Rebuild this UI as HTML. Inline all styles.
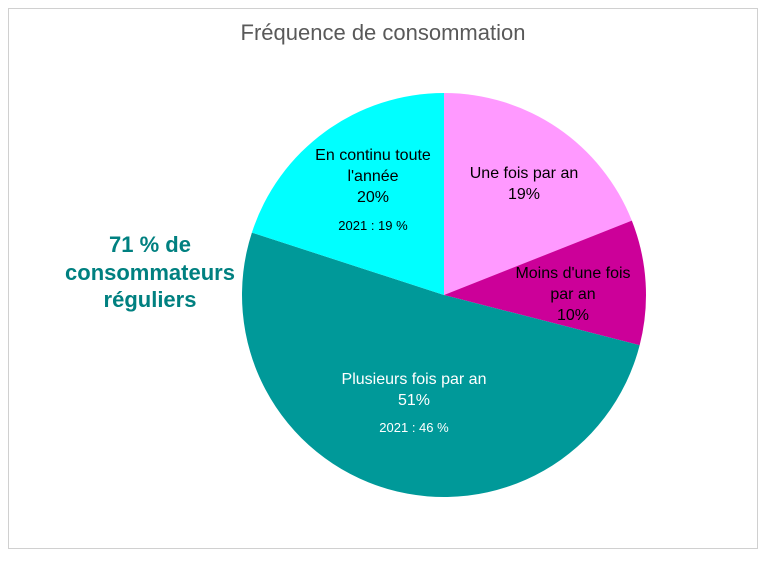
<!DOCTYPE html>
<html><head><meta charset="utf-8"><style>
body{margin:0;background:#fff;font-family:"Liberation Sans",sans-serif;}
#c{position:absolute;left:0;top:0;width:768px;height:557px;}
</style></head><body>
<div id="c">
<svg width="768" height="557">
<rect x="8.5" y="8.5" width="749" height="540" fill="#fff" stroke="#d0d0d0"/>
<text x="383" y="40" text-anchor="middle" font-size="22" fill="#595959">Fréquence de consommation</text>
<g id="slices"></g>
<g id="labels" font-size="16"></g>
<text x="150" y="252" text-anchor="middle" font-size="22" font-weight="bold" fill="#008080">71 % de</text>
<text x="150" y="280" text-anchor="middle" font-size="22" font-weight="bold" fill="#008080">consommateurs</text>
<text x="150" y="307" text-anchor="middle" font-size="22" font-weight="bold" fill="#008080">réguliers</text>
</svg>
</div>
<script>
const categories=["Une fois par an","Moins d'une fois par an","Plusieurs fois par an","En continu toute l'année"];
const values=[19,10,51,20];
const colors=["#FF99FF","#CC0099","#009999","#00FFFF"];
const cx=444,cy=295,r=202;
const ns="http://www.w3.org/2000/svg";
const g=document.getElementById('slices');
const total=values.reduce((a,b)=>a+b,0);
let acc=0;
function pt(frac,rad){const a=frac*2*Math.PI;return [cx+rad*Math.sin(a),cy-rad*Math.cos(a)];}
values.forEach((v,i)=>{
  const s=acc/total,e=(acc+v)/total;acc+=v;
  const p0=pt(s,r),p1=pt(e,r);
  const large=(e-s)>0.5?1:0;
  const path=document.createElementNS(ns,'path');
  path.setAttribute('d',`M${cx},${cy}L${p0[0]},${p0[1]}A${r},${r} 0 ${large} 1 ${p1[0]},${p1[1]}Z`);
  path.setAttribute('fill',colors[i]);
  
  
  g.appendChild(path);
});
const L=document.getElementById('labels');
function txt(x,y,t,fill,size,name){
  const el=document.createElementNS(ns,'text');
  el.setAttribute('x',x);el.setAttribute('y',y);el.setAttribute('text-anchor','middle');
  el.setAttribute('fill',fill);if(size)el.setAttribute('font-size',size);
  el.textContent=t;
  
  
  L.appendChild(el);
}
txt(524,178,"Une fois par an","#000",null,"label-une-fois");
txt(524,199,values[0]+"%","#000",null,"value-une-fois");
txt(573,278,"Moins d'une fois","#000",null,"label-moins");
txt(573,299,"par an","#000",null,"label-moins-2");
txt(573,320,values[1]+"%","#000",null,"value-moins");
txt(414,384,"Plusieurs fois par an","#fff",null,"label-plusieurs");
txt(414,405,values[2]+"%","#fff",null,"value-plusieurs");
txt(414,432,"2021 : 46 %","#fff",13,"prev-plusieurs");
txt(373,160,"En continu toute","#000",null,"label-continu");
txt(373,181,"l'année","#000",null,"label-continu-2");
txt(373,202,values[3]+"%","#000",null,"value-continu");
txt(373,230,"2021 : 19 %","#000",13,"prev-continu");
</script>
</body></html>
